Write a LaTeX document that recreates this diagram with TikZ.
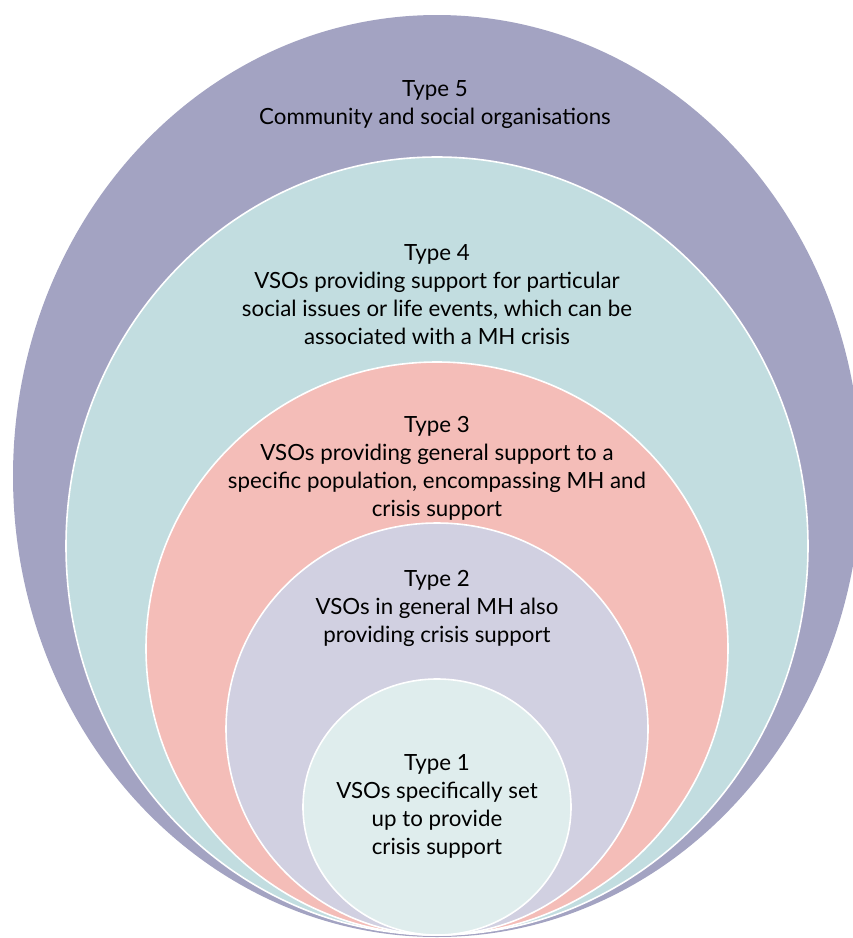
\documentclass[tikz,border=0pt]{standalone}
\usepackage{fontspec}
\setmainfont{Lato}
\definecolor{cfive}{HTML}{A3A3C2}
\definecolor{cfour}{HTML}{C2DDE0}
\definecolor{cthree}{HTML}{F4BDB8}
\definecolor{ctwo}{HTML}{D1D0E1}
\definecolor{cone}{HTML}{DFEDED}
\begin{document}
\begin{tikzpicture}[x=1pt,y=-1pt,
  ring/.style={draw=white,line width=1.6pt},
  lbl/.style={align=center,font=\fontsize{22.3}{28}\selectfont,text=black,inner sep=0pt}]
\useasboundingbox (0,0) rectangle (853,938);
\clip (0,0) rectangle (853,938);
\fill[cfive] (437,476) ellipse [x radius=424,y radius=461];
\fill[cfour,ring] (437,546) ellipse [x radius=371,y radius=389];
\fill[cthree,ring] (437,648.5) ellipse [x radius=291,y radius=286.5];
\fill[ctwo,ring] (437,729) ellipse [x radius=211,y radius=206];
\fill[cone,ring] (437,807) ellipse [x radius=134,y radius=128];
\node[lbl] (t5) at (435,105) {Type 5\\Community and social organisations};
\node[lbl] (t4) at (437,295) {Type 4\\VSOs providing support for particular\\social issues or life events, which can be\\associated with a MH crisis};
\node[lbl] (t3) at (437,468) {Type 3\\VSOs providing general support to a\\specific population, encompassing MH and\\crisis support};
\node[lbl] (t2) at (437,608) {Type 2\\VSOs in general MH also\\providing crisis support};
\node[lbl] (t1) at (437,806) {Type 1\\VSOs specifically set\\up to provide\\crisis support};
\end{tikzpicture}
\end{document}
